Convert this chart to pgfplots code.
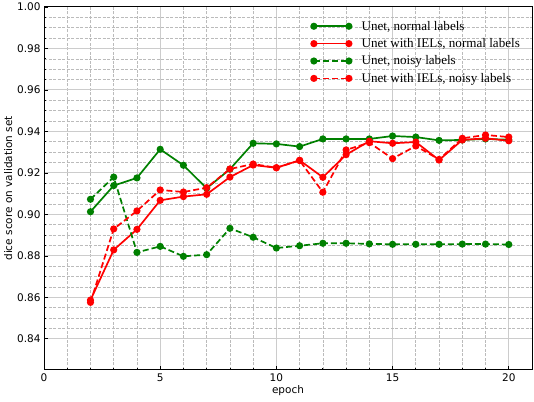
\documentclass[border=0pt]{standalone}
\usepackage{fontspec}
\setmainfont{DejaVu Sans}
\newfontfamily\legfont{Liberation Serif}
\usepackage{pgfplots}
\pgfplotsset{compat=1.18}
\usetikzlibrary{calc}
\definecolor{mplgreen}{HTML}{008000}
\definecolor{mplred}{HTML}{FF0000}
\definecolor{majgrid}{HTML}{CCCCCC}
\definecolor{mingrid}{HTML}{BBBBBB}

\begin{document}
\begin{tikzpicture}
\begin{axis}[
  scale only axis,
  width=488bp, height=363bp,
  xmin=0, xmax=21, ymin=0.825, ymax=1.0,
  xtick={0,5,10,15,20},
  ytick={0.84,0.86,0.88,0.90,0.92,0.94,0.96,0.98,1.00},
  minor x tick num=4, minor y tick num=3,
  tick pos=left, tick align=inside,
  major tick length=4bp, minor tick length=2.2bp,
  every tick/.style={black, line width=0.8bp},
  axis line style={black, line width=1bp},
  grid=both,
  major grid style={majgrid, line width=1bp},
  minor grid style={mingrid, line width=0.7bp, dash pattern=on 3bp off 1.5bp},
  yticklabel style={/pgf/number format/fixed, /pgf/number format/fixed zerofill,
    /pgf/number format/precision=2},
  /pgf/number format/assume math mode=true,
  tick label style={font=\fontsize{10.5bp}{12bp}\selectfont},
  label style={font=\fontsize{10.5bp}{12bp}\selectfont},
  xlabel={epoch}, ylabel={dice score on validation set},
  xlabel style={yshift=3bp},
  ylabel style={yshift=-2bp},
  legend image code/.code={
    \draw[#1, mark=none] (0bp,0bp) -- (35bp,0bp);
    \draw[#1, draw opacity=0] plot coordinates {(0bp,0bp) (35bp,0bp)};},
  legend style={draw=none, fill=none, at={(0.541,0.973)}, anchor=north west,
    font=\fontsize{13.1bp}{15bp}\selectfont\legfont, row sep=2.8bp, column sep=8bp},
  legend cell align=left,
]
\addplot[mplgreen, line width=1.7bp, mark=*, mark size=2.7bp, solid, mark options={solid, draw opacity=1}] coordinates {
(2,0.9013) (3,0.9139) (4,0.9176) (5,0.9314) (6,0.9237) (7,0.9126) (8,0.9218)
(9,0.9343) (10,0.9340) (11,0.9327) (12,0.9364) (13,0.9364) (14,0.9364)
(15,0.9378) (16,0.9373) (17,0.9357) (18,0.9359) (19,0.9364) (20,0.9360)};
\addlegendentry{Unet, normal labels}
\addplot[mplred, line width=1.7bp, mark=*, mark size=2.7bp, solid, mark options={solid, draw opacity=1}] coordinates {
(2,0.8587) (3,0.8829) (4,0.8928) (5,0.9068) (6,0.9086) (7,0.9097) (8,0.9180)
(9,0.9238) (10,0.9225) (11,0.9261) (12,0.9179) (13,0.9288) (14,0.9353)
(15,0.9343) (16,0.9349) (17,0.9262) (18,0.9359) (19,0.9367) (20,0.9355)};
\addlegendentry{Unet with IELs, normal labels}
\addplot[mplgreen, line width=1.7bp, mark=*, mark size=2.7bp, dash pattern=on 6bp off 3bp, mark options={solid, draw opacity=1}] coordinates {
(2,0.9073) (3,0.9180) (4,0.8817) (5,0.8846) (6,0.8798) (7,0.8806) (8,0.8933)
(9,0.8890) (10,0.8838) (11,0.8849) (12,0.8861) (13,0.8861) (14,0.8858)
(15,0.8856) (16,0.8856) (17,0.8856) (18,0.8857) (19,0.8857) (20,0.8855)};
\addlegendentry{Unet, noisy labels}
\addplot[mplred, line width=1.7bp, mark=*, mark size=2.7bp, dash pattern=on 6bp off 3bp, mark options={solid, draw opacity=1}] coordinates {
(2,0.8576) (3,0.8930) (4,0.9017) (5,0.9118) (6,0.9108) (7,0.9129) (8,0.9219)
(9,0.9243) (10,0.9225) (11,0.9260) (12,0.9107) (13,0.9311) (14,0.9346)
(15,0.9269) (16,0.9330) (17,0.9265) (18,0.9367) (19,0.9383) (20,0.9373)};
\addlegendentry{Unet with IELs, noisy labels}
\end{axis}
\pgfresetboundingbox
\path ($(current axis.south west)+(-44bp,-32bp)$) rectangle ($(current axis.north east)+(2bp,7bp)$);
\end{tikzpicture}
\end{document}
